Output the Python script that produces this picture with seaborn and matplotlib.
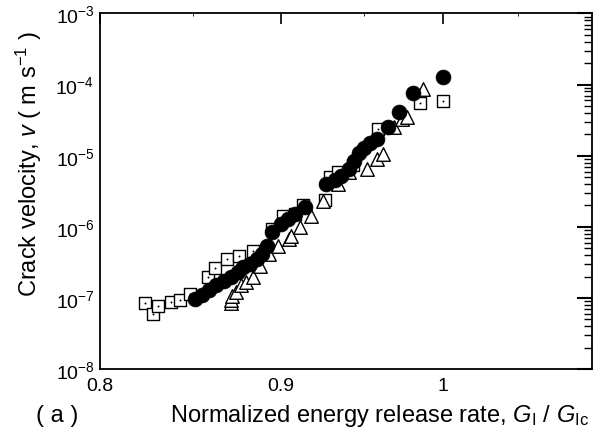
import math
import matplotlib
matplotlib.use("Agg")
import matplotlib.pyplot as plt
import matplotlib.ticker as mticker
import seaborn as sns
import pandas as pd

# ---- data ----
sq_x = [0.824, 0.828, 0.831, 0.838, 0.843, 0.848, 0.858, 0.862, 0.869, 0.876, 0.884,
        0.895, 0.901, 0.908, 0.913, 0.926, 0.929, 0.934, 0.943, 0.959, 0.985, 1.0]
sq_y = [8.5e-8, 6.0e-8, 7.6e-8, 8.9e-8, 9.3e-8, 1.15e-7, 2.0e-7, 2.6e-7, 3.5e-7, 3.9e-7, 4.6e-7,
        9.3e-7, 1.4e-6, 1.5e-6, 2.0e-6, 2.4e-6, 5.1e-6, 6.0e-6, 7.5e-6, 2.4e-5, 5.6e-5, 5.8e-5]

ci_x = [0.851, 0.855, 0.859, 0.863, 0.867, 0.871, 0.875, 0.878, 0.882, 0.886, 0.889,
        0.892, 0.895, 0.900, 0.904, 0.908, 0.914, 0.927, 0.932, 0.936, 0.941, 0.944,
        0.947, 0.950, 0.954, 0.958, 0.965, 0.972, 0.981, 1.0]
ci_y = [9.8e-8, 1.1e-7, 1.3e-7, 1.5e-7, 1.75e-7, 2.0e-7, 2.3e-7, 2.7e-7, 3.0e-7, 3.5e-7, 4.2e-7,
        5.4e-7, 8.5e-7, 1.1e-6, 1.3e-6, 1.5e-6, 1.9e-6, 4.0e-6, 4.6e-6, 5.2e-6, 6.5e-6, 8.5e-6,
        1.1e-5, 1.3e-5, 1.5e-5, 1.7e-5, 2.5e-5, 4.1e-5, 7.6e-5, 1.3e-4]

tr_x = [0.871, 0.871, 0.872, 0.874, 0.877, 0.880, 0.884, 0.888, 0.893, 0.898, 0.905, 0.906,
        0.911, 0.918, 0.925, 0.934, 0.941, 0.952, 0.958, 0.962, 0.969, 0.974, 0.977, 0.987]
tr_y = [8.5e-8, 9.5e-8, 1.05e-7, 1.2e-7, 1.5e-7, 1.7e-7, 2.0e-7, 2.8e-7, 4.2e-7, 5.4e-7, 6.8e-7, 7.5e-7,
        1.0e-6, 1.4e-6, 2.3e-6, 4.0e-6, 5.9e-6, 6.5e-6, 8.9e-6, 1.05e-5, 2.5e-5, 3.3e-5, 3.5e-5, 8.7e-5]

x_ticks = [0.8, 0.9, 1.0]
x_ticklabels = ["0.8", "0.9", "1"]
y_ticks = [1e-8, 1e-7, 1e-6, 1e-5, 1e-4, 1e-3]

sns.set_style("white")
plt.rcParams["font.family"] = ["Liberation Sans", "DejaVu Sans"]
plt.rcParams["mathtext.fontset"] = "custom"
plt.rcParams["mathtext.rm"] = "Liberation Sans"
plt.rcParams["mathtext.it"] = "Liberation Sans:italic"
plt.rcParams["text.color"] = "black"
plt.rcParams["axes.labelcolor"] = "black"
plt.rcParams["xtick.color"] = "black"
plt.rcParams["ytick.color"] = "black"

fig = plt.figure(figsize=(6.01, 4.39), dpi=100)
ax = fig.add_axes([0.1664, 0.157, 0.8186, 0.810])

df_sq = pd.DataFrame({"x": sq_x, "y": sq_y})
df_ci = pd.DataFrame({"x": ci_x, "y": ci_y})
df_tr = pd.DataFrame({"x": tr_x, "y": tr_y})

sns.scatterplot(data=df_sq, x="x", y="y", ax=ax, marker="s", s=75,
                facecolor="white", edgecolor="black", linewidth=1.0, zorder=2)
sns.scatterplot(data=df_sq, x="x", y="y", ax=ax, marker="o", s=2,
                color="black", linewidth=0, zorder=2.1)
sns.scatterplot(data=df_tr, x="x", y="y", ax=ax, marker="^", s=95,
                facecolor="white", edgecolor="black", linewidth=1.0, zorder=3)
ax.errorbar(ci_x[-1:], ci_y[-1:], yerr=[[0], [0.25e-4]], fmt="none",
            ecolor="black", elinewidth=2.5, capsize=0, zorder=3.5)
sns.scatterplot(data=df_ci, x="x", y="y", ax=ax, marker="o", s=115,
                color="black", edgecolor="black", linewidth=0.5, zorder=4)

ax.set_xscale("log")
ax.set_yscale("log")
ax.set_xlim(0.8, 1.102)
ax.set_ylim(1e-8, 1e-3)

ax.xaxis.set_major_locator(mticker.FixedLocator(x_ticks))
ax.xaxis.set_major_formatter(mticker.FixedFormatter(x_ticklabels))
ax.xaxis.set_minor_locator(mticker.FixedLocator([0.85, 0.95, 1.05]))
ax.xaxis.set_minor_formatter(mticker.NullFormatter())
ax.yaxis.set_major_locator(mticker.FixedLocator(y_ticks))
ax.yaxis.set_major_formatter(mticker.FuncFormatter(
    lambda v, p: r"$10^{%d}$" % round(math.log10(v))))
ax.yaxis.set_minor_locator(mticker.LogLocator(base=10, subs=range(2, 10), numticks=20))
ax.yaxis.set_minor_formatter(mticker.NullFormatter())

ax.tick_params(axis="both", which="both", direction="in", top=True, right=True,
               color="black", labelcolor="black", labelsize=14)
ax.tick_params(axis="y", which="major", length=11, width=1.5, pad=4)
ax.tick_params(axis="y", which="minor", length=6, width=1.0)
ax.tick_params(axis="x", which="major", length=8, width=1.2, pad=6)
ax.tick_params(axis="x", which="minor", length=2, width=0.6)

for sp in ax.spines.values():
    sp.set_color("black")
    sp.set_linewidth(1.3)

ax.set_xlabel("")
ax.set_ylabel("")
fig.text(0.048, 0.626, r"Crack velocity, $\mathit{v}$ ( m s$^{-1}$ )",
         rotation=90, ha="center", va="center", fontsize=17)
fig.text(0.632, 0.052, r"Normalized energy release rate, $\mathit{G}_\mathrm{I}$ / $\mathit{G}_\mathrm{Ic}$",
         ha="center", va="center", fontsize=17)
fig.text(0.095, 0.052, "( a )", ha="center", va="center", fontsize=17)

fig.savefig("out.png", dpi=100)
